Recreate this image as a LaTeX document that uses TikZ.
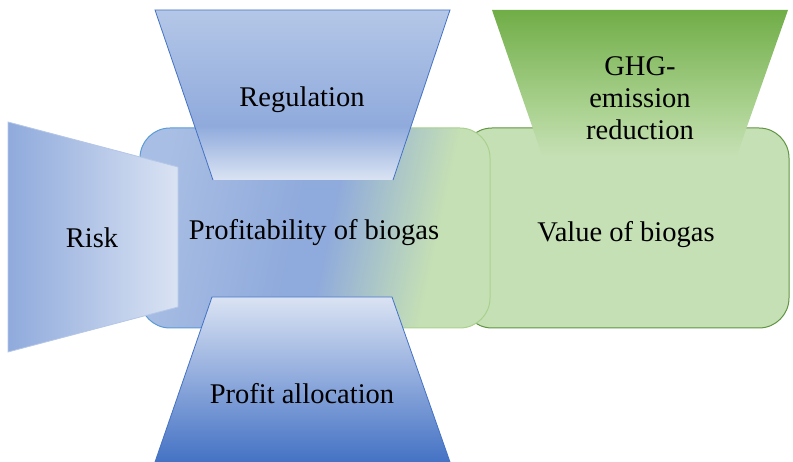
\documentclass[tikz,border=0pt]{standalone}
\usepackage{fontspec}
\setmainfont{Liberation Serif}
\usetikzlibrary{calc}

\definecolor{blueA}{HTML}{8FAADC}
\definecolor{blueB}{HTML}{B4C7E7}
\definecolor{blueC}{HTML}{DAE3F3}
\definecolor{blueD}{HTML}{4472C4}
\definecolor{blueE}{HTML}{5B9BD5}
\definecolor{greenA}{HTML}{C5E0B4}
\definecolor{greenB}{HTML}{A9D18E}
\definecolor{greenC}{HTML}{70AD47}
\definecolor{greenD}{HTML}{5F9440}

% vertical shadings: 25bp is the bottom of the path, 75bp the top
\pgfdeclareverticalshading{regshade}{100bp}{color(0bp)=(blueC); color(25bp)=(blueC); color(41bp)=(blueA); color(75bp)=(blueB); color(100bp)=(blueB)}
\pgfdeclareverticalshading{allocshade}{100bp}{color(0bp)=(blueD); color(25bp)=(blueD); color(50bp)=(blueA); color(75bp)=(blueC); color(100bp)=(blueC)}
\pgfdeclareverticalshading{ghgshade}{100bp}{color(0bp)=(greenA); color(25bp)=(greenA); color(42bp)=(greenB); color(75bp)=(greenC); color(100bp)=(greenC)}
% horizontal shadings: 25bp is the left of the path, 75bp the right
\pgfdeclarehorizontalshading{riskshade}{100bp}{color(0bp)=(blueA); color(25bp)=(blueA); color(75bp)=(blueC); color(100bp)=(blueC)}
\pgfdeclarehorizontalshading{profshade}{100bp}{color(0bp)=(blueB!70!blueA); color(25bp)=(blueB!70!blueA); color(47bp)=(blueA); color(52bp)=(blueA); color(69bp)=(greenA); color(100bp)=(greenA)}

\tikzset{
  lbl/.style={font=\fontsize{28.5}{32}\selectfont, text=black, align=center, inner sep=0pt},
  panel/.style={rounded corners=30pt},
}

\begin{document}
\begin{tikzpicture}[x=1pt,y=1pt]
\useasboundingbox (0,0) rectangle (793,462);

% value box (behind)
\path[panel, fill=greenA, draw=greenD, line width=1pt] (462,134) rectangle (789,334);

% profitability box with blue-to-green fill
\path[panel, shading=profshade, shading angle=-12] (140,134) rectangle (490,334);
\begin{scope}
  \clip (0,0) rectangle (330,462);
  \draw[panel, blueE, line width=1pt] (140,134) rectangle (490,334);
\end{scope}
\begin{scope}
  \clip (330,0) rectangle (793,462);
  \draw[panel, greenB, line width=1pt] (140,134) rectangle (490,334);
\end{scope}

% regulation
\path[shading=regshade] (155,452) -- (450,452) -- (393,282) -- (213,282) -- cycle;
\draw[blueD, line width=0.8pt] (213,282) -- (155,452) -- (450,452) -- (393,282);

% greenhouse gas
\path[shading=ghgshade] (492,452) -- (788,452) -- (737,307) -- (542,307) -- cycle;

% risk
\path[shading=riskshade, draw=blueB, line width=0.8pt] (8,340) -- (178,295) -- (178,155) -- (8,110) -- cycle;

% profit allocation
\path[shading=allocshade] (212,165) -- (392,165) -- (450,0) -- (155,0) -- cycle;
\draw[blueD, line width=0.8pt] (155,0) -- (212,165) -- (392,165) -- (450,0);

% texts
\node[lbl] (reg) at (302,362) {Regulation};
\node[lbl] (ghg) at (640,364) {GHG-\\emission\\reduction};
\node[lbl] (risk) at (92,224) {Risk};
\node[lbl] (prof) at (314,229) {Profitability of biogas};
\node[lbl] (val) at (626,227) {Value of biogas};
\node[lbl] (alloc) at (302,68) {Profit allocation};
\end{tikzpicture}
\end{document}
